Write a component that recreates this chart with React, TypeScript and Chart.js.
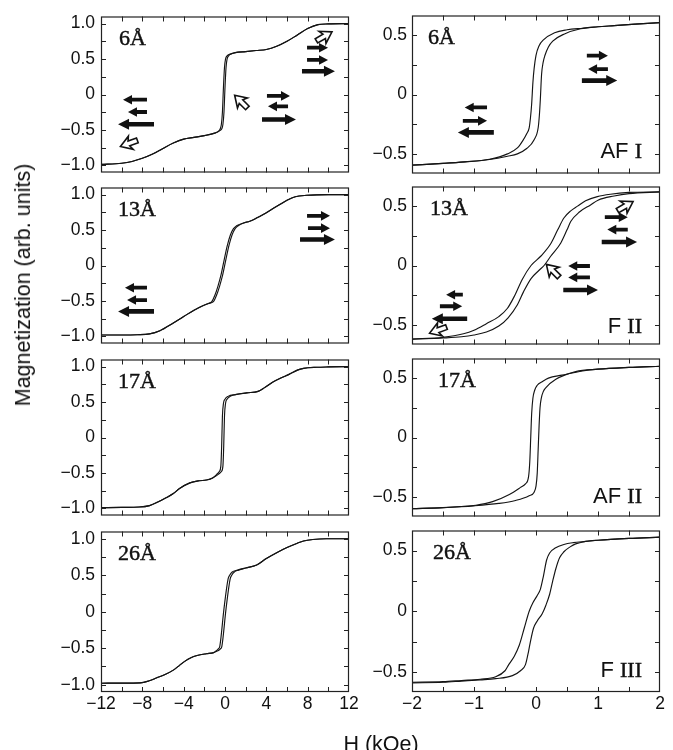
import React, { useEffect, useRef } from "react";
import { Chart, registerables } from "chart.js";
Chart.register(...registerables);

// ---------------- data (H in kOe, M in arb. units) ----------------
// left column: -12..12 kOe
const h6L_up = [-12,-10,-9,-8,-7,-6,-5,-4,-3,-2,-1,-0.5,-0.3,-0.2,-0.1,0,0.1,0.2,0.35,0.6,1,2,3,4,5,6,7,8,9,10,12];
const m6L_up = [-0.985,-0.97,-0.945,-0.9,-0.84,-0.76,-0.685,-0.63,-0.605,-0.58,-0.545,-0.51,-0.48,-0.42,-0.25,0.1,0.38,0.5,0.545,0.57,0.59,0.605,0.62,0.635,0.68,0.75,0.84,0.93,0.985,0.995,1.0];
const h6L_dn = [-12,-10,-9,-8,-7,-6,-5,-4,-3,-2,-1,-0.6,-0.45,-0.35,-0.25,-0.15,-0.05,0.05,0.2,0.5,1,2,3,4,5,6,7,8,9,10,12];
const m6L_dn = [-0.985,-0.97,-0.945,-0.9,-0.84,-0.76,-0.685,-0.63,-0.605,-0.58,-0.545,-0.515,-0.48,-0.42,-0.25,0.1,0.38,0.5,0.545,0.57,0.59,0.605,0.62,0.635,0.68,0.75,0.84,0.93,0.985,0.995,1.0];

const h13L_up = [-12,-10,-8.5,-7.3,-6.3,-5,-4,-3,-2.2,-1.6,-1.12,-0.82,-0.52,-0.22,0.08,0.38,0.68,0.98,1.28,1.8,2.4,3,3.7,4.5,5.3,6,6.8,7.9,10,12];
const m13L_up = [-0.98,-0.98,-0.977,-0.965,-0.92,-0.81,-0.72,-0.63,-0.57,-0.535,-0.51,-0.42,-0.29,-0.13,0.08,0.28,0.43,0.52,0.56,0.6,0.625,0.665,0.72,0.79,0.86,0.92,0.97,0.99,1.0,1.0];
const h13L_dn = [-12,-10,-8.5,-7.3,-6.3,-5,-4,-3,-2.2,-1.6,-1.28,-0.98,-0.68,-0.38,-0.08,0.22,0.52,0.82,1.12,1.8,2.4,3,3.7,4.5,5.3,6,6.8,7.9,10,12];
const m13L_dn = [-0.98,-0.98,-0.977,-0.965,-0.92,-0.81,-0.72,-0.63,-0.57,-0.535,-0.51,-0.42,-0.29,-0.13,0.08,0.28,0.43,0.52,0.56,0.6,0.625,0.665,0.72,0.79,0.86,0.92,0.97,0.99,1.0,1.0];

const h17L_up = [-12,-10,-8.3,-7.3,-6.5,-5.7,-5,-4.4,-3.4,-2.5,-1.8,-1.2,-0.65,-0.35,-0.2,-0.12,-0.05,0.05,0.2,0.5,1,2.1,3.2,3.8,4.6,5.4,6.2,7,7.6,8.9,10,12];
const m17L_up = [-0.99,-0.985,-0.98,-0.96,-0.91,-0.85,-0.79,-0.72,-0.64,-0.61,-0.6,-0.57,-0.52,-0.48,-0.4,-0.1,0.3,0.48,0.54,0.58,0.605,0.63,0.65,0.7,0.78,0.84,0.89,0.95,0.975,0.99,0.995,1.0];
const h17L_dn = [-12,-10,-8.3,-7.3,-6.5,-5.7,-5,-4.4,-3.4,-2.5,-1.8,-1.2,-0.8,-0.55,-0.4,-0.32,-0.25,-0.15,0,0.3,1,2.1,3.2,3.8,4.6,5.4,6.2,7,7.6,8.9,10,12];
const m17L_dn = [-0.99,-0.985,-0.98,-0.96,-0.91,-0.85,-0.79,-0.72,-0.64,-0.61,-0.6,-0.57,-0.52,-0.48,-0.4,-0.1,0.3,0.48,0.54,0.58,0.605,0.63,0.65,0.7,0.78,0.84,0.89,0.95,0.975,0.99,0.995,1.0];

const h26L_up = [-12,-10,-8.2,-7.4,-6.6,-5.8,-5,-4.4,-3.9,-3.3,-2.7,-1.8,-1.1,-0.7,-0.45,-0.3,0.1,0.5,0.65,0.9,1.3,2,3.07,4,5,6,7,7.6,8.5,9.8,12];
const m26L_up = [-0.98,-0.978,-0.975,-0.95,-0.905,-0.86,-0.8,-0.735,-0.68,-0.63,-0.6,-0.575,-0.56,-0.535,-0.51,-0.47,0.04,0.45,0.5,0.545,0.57,0.6,0.64,0.73,0.81,0.88,0.94,0.97,0.99,1.0,1.0];
const h26L_dn = [-12,-10,-8.2,-7.4,-6.6,-5.8,-5,-4.4,-3.9,-3.3,-2.7,-1.8,-1.1,-0.85,-0.65,-0.5,-0.1,0.3,0.45,0.7,1.2,2,3.07,4,5,6,7,7.6,8.5,9.8,12];
const m26L_dn = [-0.98,-0.978,-0.975,-0.95,-0.905,-0.86,-0.8,-0.735,-0.68,-0.63,-0.6,-0.575,-0.56,-0.535,-0.51,-0.47,0.04,0.45,0.5,0.545,0.57,0.6,0.64,0.73,0.81,0.88,0.94,0.97,0.99,1.0,1.0];

// right column: -2..2 kOe
const hAF1_dn = [-2,-1.5,-1.15,-0.75,-0.46,-0.3,-0.215,-0.15,-0.11,-0.09,-0.07,-0.05,-0.03,0,0.05,0.12,0.3,0.5,0.75,1,1.26,1.6,2];
const mAF1_dn = [-0.595,-0.58,-0.567,-0.545,-0.5,-0.45,-0.39,-0.33,-0.28,-0.2,-0.08,0.1,0.22,0.33,0.41,0.46,0.52,0.545,0.558,0.57,0.58,0.593,0.605];
const hAF1_up = [-2,-1.5,-1.15,-0.75,-0.46,-0.3,-0.15,-0.03,0.035,0.055,0.07,0.09,0.115,0.145,0.2,0.27,0.46,0.72,1,1.26,1.6,2];
const mAF1_up = [-0.595,-0.58,-0.567,-0.547,-0.52,-0.5,-0.455,-0.38,-0.28,-0.17,-0.04,0.17,0.27,0.33,0.4,0.45,0.51,0.553,0.57,0.58,0.593,0.605];

const hF2_dn = [-2,-1.5,-1.17,-1,-0.8,-0.6,-0.46,-0.35,-0.22,-0.08,0.08,0.24,0.35,0.45,0.56,0.67,0.8,0.99,1.2,1.5,2];
const mF2_dn = [-0.62,-0.605,-0.575,-0.545,-0.49,-0.43,-0.36,-0.26,-0.115,0,0.08,0.185,0.3,0.4,0.46,0.5,0.545,0.58,0.6,0.615,0.62];
const hF2_up = [-2,-1.5,-1.2,-1,-0.8,-0.6,-0.45,-0.3,-0.2,-0.08,0.05,0.13,0.24,0.4,0.5,0.56,0.7,0.88,1,1.26,1.5,2];
const mF2_up = [-0.62,-0.61,-0.6,-0.585,-0.56,-0.51,-0.44,-0.33,-0.22,-0.11,-0.04,0,0.08,0.19,0.3,0.37,0.45,0.51,0.55,0.585,0.605,0.62];

const hAF2_dn = [-2,-1.5,-0.97,-0.7,-0.43,-0.25,-0.17,-0.12,-0.1,-0.085,-0.07,-0.05,-0.02,0.02,0.1,0.2,0.42,0.75,1,1.5,2];
const mAF2_dn = [-0.6,-0.59,-0.57,-0.54,-0.48,-0.42,-0.39,-0.33,-0.2,0,0.2,0.33,0.4,0.44,0.47,0.5,0.525,0.56,0.575,0.59,0.6];
const hAF2_up = [-2,-1.5,-1,-0.6,-0.33,-0.11,-0.03,0,0.02,0.035,0.05,0.065,0.085,0.12,0.16,0.32,0.64,1,1.5,2];
const mAF2_up = [-0.6,-0.59,-0.575,-0.555,-0.53,-0.49,-0.46,-0.41,-0.3,-0.1,0.1,0.25,0.33,0.39,0.42,0.49,0.555,0.575,0.59,0.6];

const hF3_dn = [-2,-1.5,-1.2,-0.9,-0.65,-0.5,-0.44,-0.35,-0.27,-0.19,-0.11,-0.05,0.02,0.07,0.12,0.17,0.22,0.31,0.45,0.6,0.8,1,1.5,2];
const mF3_dn = [-0.585,-0.58,-0.57,-0.56,-0.54,-0.49,-0.44,-0.37,-0.28,-0.14,0,0.07,0.13,0.18,0.29,0.42,0.48,0.52,0.55,0.565,0.575,0.585,0.6,0.61];
const hF3_up = [-2,-1.5,-1.2,-0.9,-0.65,-0.38,-0.25,-0.17,-0.12,-0.09,-0.04,0.02,0.1,0.16,0.22,0.27,0.32,0.38,0.45,0.55,0.64,0.8,1,1.5,2];
const mF3_up = [-0.59,-0.585,-0.575,-0.565,-0.555,-0.53,-0.49,-0.44,-0.33,-0.25,-0.14,-0.08,-0.02,0.05,0.14,0.25,0.35,0.44,0.49,0.53,0.555,0.575,0.585,0.6,0.61];

// tick values
const xLabelsL = [-12,-8,-4,0,4,8,12];
const xMinorL = [-10,-8,-6,-4,-2,0,2,4,6,8,10];
const yLabelsL = [-1,-0.5,0,0.5,1];
const yMinorL = [-1,-0.75,-0.5,-0.25,0,0.25,0.5,0.75,1];
const xLabelsR = [-2,-1,0,1,2];
const xMinorR = [-1.5,-1,-0.5,0,0.5,1,1.5];
const yLabelsR = [-0.5,0,0.5];
const yMinorR = [-0.5,-0.25,0,0.25,0.5];

// annotations: filled arrows [H tail, H head, M, long], open arrows [H, M, angle]
const arrows6L = [[-7.55,-9.87,-0.073,0],[-7.55,-9.39,-0.247,0],[-6.87,-10.35,-0.42,1],[4.06,6.29,-0.02,0],[6.1,4.16,-0.167,0],[3.58,6.87,-0.353,1],[7.94,9.97,0.66,0],[7.94,9.97,0.487,0],[7.45,10.64,0.327,1]];
const open6L = [[-9.3,-0.69,200],[1.55,-0.1,135],[9.6,0.82,30]];
const arrows13L = [[7.94,10.16,0.7,0],[8.03,10.16,0.527,0],[7.26,10.64,0.367,1],[-7.55,-9.68,-0.313,0],[-7.55,-9.48,-0.487,0],[-6.87,-10.35,-0.647,1]];
const arrowsAF1 = [[0.82,1.16,0.327,0],[1.16,0.84,0.214,0],[0.74,1.31,0.117,1],[-0.79,-1.15,-0.109,0],[-1.18,-0.79,-0.222,0],[-0.68,-1.26,-0.319,1]];
const arrowsF2 = [[1.11,1.48,0.407,0],[1.48,1.15,0.302,0],[1.06,1.63,0.198,1],[0.87,0.52,-0.004,0],[0.87,0.52,-0.1,0],[0.44,1.0,-0.206,1],[-1.18,-1.45,-0.246,0],[-1.55,-1.19,-0.343,0],[-1.11,-1.68,-0.448,1]];
const openF2 = [[1.44,0.5,30],[0.27,-0.044,135],[-1.58,-0.544,200]];

// ---------------- layout ----------------
const ROW_TOPS = [12, 183, 355, 527];
const PH = 165;
const PW = 248;
const COL_LEFT = [101, 412];
const YW = [70, 55];
const PAD = 12;
const XH = 32;

const SANS = '"Liberation Sans", Arial, Helvetica, sans-serif';
const SERIF = '"Liberation Serif", "Times New Roman", serif';

interface PanelDef {
  row: number; col: number;
  up: number[][]; dn: number[][];
  thick: string; labelDx: number;
  typeSans?: string; typeRoman?: string; typeDy?: number;
  arrows: number[][]; open: number[][];
}

const PANELS: PanelDef[] = [
  { row: 0, col: 0, up: [h6L_up, m6L_up], dn: [h6L_dn, m6L_dn], thick: "6Å", labelDx: 18, arrows: arrows6L, open: open6L },
  { row: 0, col: 1, up: [hAF1_up, mAF1_up], dn: [hAF1_dn, mAF1_dn], thick: "6Å", labelDx: 16, typeSans: "AF", typeRoman: "I", typeDy: 16, arrows: arrowsAF1, open: [] },
  { row: 1, col: 0, up: [h13L_up, m13L_up], dn: [h13L_dn, m13L_dn], thick: "13Å", labelDx: 17, arrows: arrows13L, open: [] },
  { row: 1, col: 1, up: [hF2_up, mF2_up], dn: [hF2_dn, mF2_dn], thick: "13Å", labelDx: 18, typeSans: "F", typeRoman: "II", typeDy: 11.5, arrows: arrowsF2, open: openF2 },
  { row: 2, col: 0, up: [h17L_up, m17L_up], dn: [h17L_dn, m17L_dn], thick: "17Å", labelDx: 17, arrows: [], open: [] },
  { row: 2, col: 1, up: [hAF2_up, mAF2_up], dn: [hAF2_dn, mAF2_dn], thick: "17Å", labelDx: 26, typeSans: "AF", typeRoman: "II", typeDy: 13.5, arrows: [], open: [] },
  { row: 3, col: 0, up: [h26L_up, m26L_up], dn: [h26L_dn, m26L_dn], thick: "26Å", labelDx: 17, arrows: [], open: [] },
  { row: 3, col: 1, up: [hF3_up, mF3_up], dn: [hF3_dn, mF3_dn], thick: "26Å", labelDx: 21, typeSans: "F", typeRoman: "III", typeDy: 15, arrows: [], open: [] },
];

function toPoints(h: number[], m: number[]) {
  return h.map((x, i) => ({ x, y: m[i] }));
}

function fmtSigned(v: number, dec: number) {
  if (Math.abs(v) < 1e-9) return "0";
  const s = Math.abs(v).toFixed(dec);
  return (v < 0 ? "\u2212" : "") + s;
}

function drawFilledArrow(ctx: CanvasRenderingContext2D, x1: number, x2: number, y: number, long: boolean) {
  const dir = Math.sign(x2 - x1);
  const t = long ? 4.6 : 3.8;
  const hl = long ? 11 : 9;
  const hw = long ? 5.5 : 4.8;
  const xb = x2 - dir * hl;
  ctx.beginPath();
  ctx.moveTo(x1, y - t / 2);
  ctx.lineTo(xb, y - t / 2);
  ctx.lineTo(xb, y - hw);
  ctx.lineTo(x2, y);
  ctx.lineTo(xb, y + hw);
  ctx.lineTo(xb, y + t / 2);
  ctx.lineTo(x1, y + t / 2);
  ctx.closePath();
  ctx.fill();
}

function drawOpenArrow(ctx: CanvasRenderingContext2D, x: number, y: number, ang: number) {
  ctx.save();
  ctx.translate(x, y);
  ctx.rotate((-ang * Math.PI) / 180);
  ctx.beginPath();
  ctx.moveTo(9, 0);
  ctx.lineTo(-2, -7);
  ctx.lineTo(0, -2.5);
  ctx.lineTo(-9, -2.5);
  ctx.lineTo(-9, 2.5);
  ctx.lineTo(0, 2.5);
  ctx.lineTo(-2, 7);
  ctx.closePath();
  ctx.fillStyle = "#fff";
  ctx.fill();
  ctx.lineWidth = 1.6;
  ctx.strokeStyle = "#111";
  ctx.lineJoin = "miter";
  ctx.stroke();
  ctx.restore();
}

function boldText(ctx: CanvasRenderingContext2D, s: string, x: number, y: number) {
  ctx.fillText(s, x, y);
  ctx.lineWidth = 0.45;
  ctx.strokeText(s, x, y);
}

function makeDecor(p: PanelDef) {
  const xMinor = p.col === 0 ? xMinorL : xMinorR;
  const yMinor = p.col === 0 ? yMinorL : yMinorR;
  return {
    id: "decor",
    afterDatasetsDraw(chart: any) {
      const ctx: CanvasRenderingContext2D = chart.ctx;
      const a = chart.chartArea;
      const xs = chart.scales.x;
      const ys = chart.scales.y;
      ctx.save();
      // inward ticks on all sides
      ctx.strokeStyle = "#222";
      ctx.lineWidth = 1;
      const TL = 5;
      ctx.beginPath();
      xMinor.forEach((v) => {
        const px = Math.round(xs.getPixelForValue(v)) + 0.5;
        ctx.moveTo(px, a.bottom);
        ctx.lineTo(px, a.bottom - TL);
        ctx.moveTo(px, a.top);
        ctx.lineTo(px, a.top + TL);
      });
      yMinor.forEach((v) => {
        const py = Math.round(ys.getPixelForValue(v)) + 0.5;
        ctx.moveTo(a.left, py);
        ctx.lineTo(a.left + TL, py);
        ctx.moveTo(a.right, py);
        ctx.lineTo(a.right - TL, py);
      });
      ctx.stroke();
      // frame
      ctx.lineWidth = 1.2;
      ctx.strokeStyle = "#222";
      ctx.strokeRect(a.left + 0.5, a.top + 0.5, a.right - a.left - 1, a.bottom - a.top - 1);
      // filled arrows
      ctx.fillStyle = "#111";
      p.arrows.forEach((ar) => {
        drawFilledArrow(ctx, xs.getPixelForValue(ar[0]), xs.getPixelForValue(ar[1]), ys.getPixelForValue(ar[2]), ar[3] === 1);
      });
      p.open.forEach((o) => {
        drawOpenArrow(ctx, xs.getPixelForValue(o[0]), ys.getPixelForValue(o[1]), o[2]);
      });
      // thickness label
      ctx.fillStyle = "#111";
      ctx.strokeStyle = "#111";
      ctx.textBaseline = "alphabetic";
      ctx.textAlign = "left";
      ctx.font = `22px ${SERIF}`;
      boldText(ctx, p.thick, a.left + p.labelDx, a.top + 28.5);
      // coupling type label
      if (p.typeSans && p.typeRoman) {
        const yb = a.bottom - (p.typeDy || 14);
        const xe = a.right - 18;
        ctx.font = `22px ${SERIF}`;
        const wr = ctx.measureText(p.typeRoman).width;
        boldText(ctx, p.typeRoman, xe - wr, yb);
        ctx.font = `22px ${SANS}`;
        const ws = ctx.measureText(p.typeSans + " ").width;
        ctx.fillText(p.typeSans + " ", xe - wr - ws, yb);
      }
      ctx.restore();
    },
  };
}

function PanelChart({ p }: { p: PanelDef }) {
  const ref = useRef<HTMLCanvasElement | null>(null);
  const bottomRow = p.row === 3;
  const yw = YW[p.col];
  const width = yw + PW + PAD;
  const height = PAD + PH + (bottomRow ? XH + 2 : PAD);
  const left = COL_LEFT[p.col] - yw;
  const top = ROW_TOPS[p.row] - PAD;

  useEffect(() => {
    if (!ref.current) return;
    const isL = p.col === 0;
    const xLabels = isL ? xLabelsL : xLabelsR;
    const yLabels = isL ? yLabelsL : yLabelsR;
    const chart = new Chart(ref.current, {
      type: "line",
      data: {
        datasets: [
          { data: toPoints(p.dn[0], p.dn[1]), borderColor: "#141414", borderWidth: 1.15, pointRadius: 0, fill: false, cubicInterpolationMode: "monotone" },
          { data: toPoints(p.up[0], p.up[1]), borderColor: "#141414", borderWidth: 1.15, pointRadius: 0, fill: false, cubicInterpolationMode: "monotone" },
        ],
      },
      options: {
        animation: false,
        responsive: false,
        maintainAspectRatio: false,
        devicePixelRatio: 1,
        events: [],
        layout: { padding: { left: 0, top: PAD, right: PAD, bottom: bottomRow ? 2 : PAD } },
        plugins: { legend: { display: false }, tooltip: { enabled: false }, title: { display: false } },
        scales: {
          x: {
            type: "linear",
            min: isL ? -12 : -2,
            max: isL ? 12 : 2,
            afterBuildTicks: (s: any) => {
              s.ticks = xLabels.map((v) => ({ value: v }));
            },
            afterFit: (s: any) => {
              s.height = bottomRow ? XH : 0;
            },
            grid: { display: false, drawTicks: false },
            border: { display: false },
            ticks: {
              display: bottomRow,
              padding: 2,
              autoSkip: false,
              maxRotation: 0,
              color: "#111",
              font: { family: SANS, size: 17.5 },
              callback: (v: any) => fmtSigned(Number(v), 0),
            },
          },
          y: {
            type: "linear",
            min: isL ? -1.1 : -0.665,
            max: isL ? 1.1 : 0.665,
            afterBuildTicks: (s: any) => {
              s.ticks = yLabels.map((v) => ({ value: v }));
            },
            afterFit: (s: any) => {
              s.width = yw;
            },
            grid: { display: false, drawTicks: false },
            border: { display: false },
            ticks: {
              padding: isL ? 6 : 5,
              autoSkip: false,
              color: "#111",
              font: { family: SANS, size: 17.5 },
              callback: (v: any) => fmtSigned(Number(v), 1),
            },
          },
        },
      } as any,
      plugins: [makeDecor(p)],
    });
    return () => chart.destroy();
  }, []);

  return (
    <canvas
      ref={ref}
      width={width}
      height={height}
      style={{ position: "absolute", left, top, width, height }}
    />
  );
}

export default function App() {
  return (
    <div style={{ position: "absolute", left: 0, top: 0, width: 673, height: 750, overflow: "hidden", background: "#fff" }}>
      {PANELS.map((p, i) => (
        <PanelChart key={i} p={p} />
      ))}
      <div
        style={{
          position: "absolute",
          left: 23,
          top: 285,
          transform: "translate(-50%, -50%) rotate(-90deg)",
          whiteSpace: "nowrap",
          font: `21.5px ${SANS}`,
          color: "#111",
          lineHeight: "24px",
        }}
      >
        Magnetization (arb. units)
      </div>
      <div
        style={{
          position: "absolute",
          left: 381,
          top: 732,
          transform: "translateX(-50%)",
          whiteSpace: "nowrap",
          font: `21.5px ${SANS}`,
          color: "#111",
          lineHeight: "24px",
        }}
      >
        H (kOe)
      </div>
    </div>
  );
}
